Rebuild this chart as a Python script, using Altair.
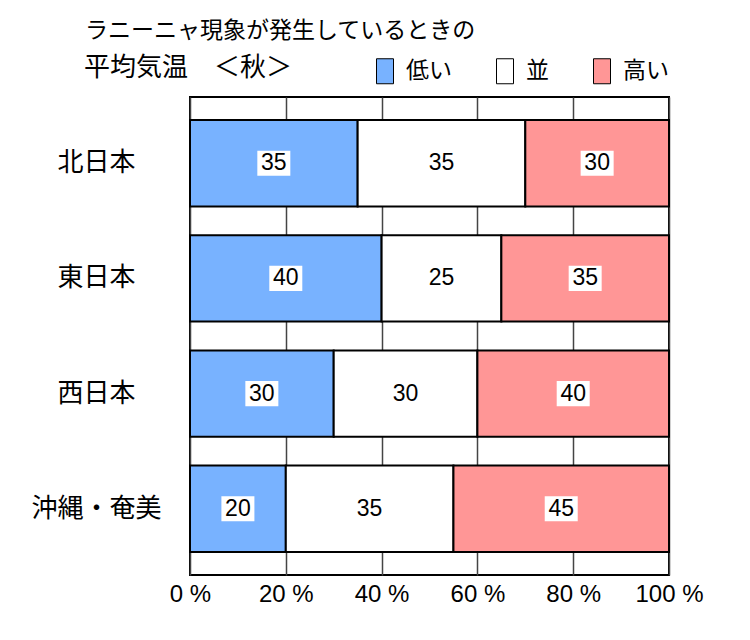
import altair as alt
import pandas as pd

regions = ["北日本", "東日本", "西日本", "沖縄・奄美"]
categories = ["低い", "並", "高い"]
low = [35, 40, 30, 20]
normal = [35, 25, 30, 35]
high = [30, 35, 40, 45]
colors = ["#78B2FF", "#FFFFFF", "#FF9696"]
x_ticks = [0, 20, 40, 60, 80, 100]
title_line1 = ["ラニーニャ現象が発生しているときの"]
title_line2 = ["平均気温　＜秋＞"]

rows = []
for i, r in enumerate(regions):
    start = 0
    for c, vals in zip(categories, [low, normal, high]):
        v = vals[i]
        rows.append({"region": r, "cat": c, "value": v, "start": start,
                     "end": start + v, "mid": start + v / 2})
        start += v
df = pd.DataFrame(rows)

JP = "Noto Sans CJK JP"
NUM = "Liberation Sans"

y_enc = alt.Y("region:N", sort=regions,
              scale=alt.Scale(paddingInner=0.25, paddingOuter=0.2),
              axis=alt.Axis(title=None, ticks=False, tickSize=0, domain=False,
                            labelAlign="center", labelPadding=94,
                            labelFont=JP, labelFontSize=26, labelColor="black"))

x_scale = alt.Scale(domain=[0, 100], nice=False)

bars = alt.Chart(df).mark_bar(stroke="black", strokeWidth=2, opacity=1).encode(
    x=alt.X("start:Q", scale=x_scale,
            axis=alt.Axis(title=None, values=x_ticks, labelExpr="datum.value + ' %'",
                          grid=True, gridColor="#444444", gridWidth=1.5,
                          domain=False, ticks=False, tickSize=0, labelPadding=7,
                          labelFont=NUM, labelFontSize=24, labelColor="black",
                          labelFlush=False)),
    x2="end:Q",
    y=y_enc,
    color=alt.Color("cat:N", sort=categories,
                    scale=alt.Scale(domain=categories, range=colors),
                    legend=alt.Legend(title=None, orient="none", direction="horizontal",
                                      legendX=182, legendY=-39, padding=0,
                                      symbolType="M-0.68,-1L0.68,-1L0.68,1L-0.68,1Z",
                                      symbolSize=625, symbolStrokeColor="black",
                                      symbolStrokeWidth=1, symbolOpacity=1,
                                      labelFont=JP, labelFontSize=23, labelColor="black",
                                      labelOffset=8, columnPadding=40)),
)

boxes = alt.Chart(df).mark_point(
    shape="M-1,-0.76L1,-0.76L1,0.76L-1,0.76Z", filled=True, fill="white",
    opacity=1, size=1089, strokeWidth=0
).encode(x=alt.X("mid:Q", scale=x_scale), y=alt.Y("region:N", sort=regions))

labels = alt.Chart(df).mark_text(font=NUM, fontSize=23, color="black",
                                 baseline="middle", align="center").encode(
    x=alt.X("mid:Q", scale=x_scale),
    y=alt.Y("region:N", sort=regions),
    text="value:Q",
)

t1 = alt.Chart(pd.DataFrame({"t": title_line1})).mark_text(
    font=JP, fontSize=23, color="black", align="left", baseline="middle"
).encode(x=alt.value(-105), y=alt.value(-66), text="t:N")

t2 = alt.Chart(pd.DataFrame({"t": title_line2})).mark_text(
    font=JP, fontSize=26, color="black", align="left", baseline="middle"
).encode(x=alt.value(-106), y=alt.value(-29), text="t:N")

chart = alt.layer(bars, boxes, labels, t1, t2).properties(
    width=479, height=478,
    autosize="none",
    padding={"left": 190, "top": 97, "right": 81, "bottom": 65},
).configure_view(stroke="black", strokeWidth=2)

chart.save("out.html", embed_options={"renderer": "svg", "actions": False})
